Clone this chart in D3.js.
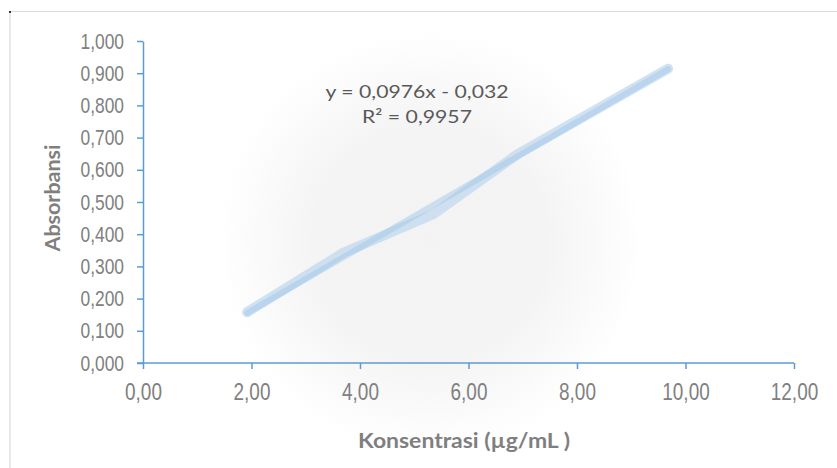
<!DOCTYPE html>
<html>
<head>
<meta charset="utf-8">
<script src="https://cdn.jsdelivr.net/npm/d3@7"></script>
<style>
  body { margin: 0; background: #fff; }
</style>
</head>
<body>
<div id="chart"></div>
<script>
// data
const konsentrasi = [1.92, 3.69, 5.35, 6.90, 9.68]
const absorbansi = [0.158, 0.342, 0.462, 0.648, 0.914]
const xTicks = [0, 2, 4, 6, 8, 10, 12]
const yTicks = [0, 0.1, 0.2, 0.3, 0.4, 0.5, 0.6, 0.7, 0.8, 0.9, 1.0]
const slope = 0.0976
const intercept = -0.032
const eqLines = ["y = 0,0976x - 0,032", "R² = 0,9957"]

const W = 837, H = 468
const plot = { left: 143, right: 794, top: 41, bottom: 363 }

const svg = d3.select("#chart").append("svg")
    .attr("width", W)
    .attr("height", H)

// indonesian number format (comma decimal)
const loc = d3.formatLocale({ decimal: ",", thousands: ".", grouping: [3], currency: ["", ""] })

// soft radial glow behind the chart
const defs = svg.append("defs")
const grad = defs.append("radialGradient").attr("id", "glow")
    .attr("gradientUnits", "userSpaceOnUse")
    .attr("cx", 430).attr("cy", 242).attr("r", 212)
grad.append("stop").attr("offset", "0%").attr("stop-color", "#f3f3f3")
grad.append("stop").attr("offset", "55%").attr("stop-color", "#f4f4f4")
grad.append("stop").attr("offset", "100%").attr("stop-color", "#ffffff")
svg.append("rect").attr("x", 10).attr("y", 12).attr("width", W).attr("height", H)
    .style("fill", "url(#glow)")

// chart border (cut off at right/bottom)
svg.append("line").attr("x1", 9).attr("y1", 11.5).attr("x2", W).attr("y2", 11.5)
    .style("stroke", "#d9d9d9").style("stroke-width", 1.2)
svg.append("line").attr("x1", 10).attr("y1", 11).attr("x2", 10).attr("y2", H)
    .style("stroke", "#d9d9d9").style("stroke-width", 1.2)
svg.append("rect").attr("x", 9).attr("y", 11).attr("width", 2).attr("height", 2).style("fill", "#333")

// scales
const x = d3.scaleLinear().domain([0, 12]).range([plot.left, plot.right])
const y = d3.scaleLinear().domain([0, 1]).range([plot.bottom, plot.top])

const axisColor = "#5b9bd5"

const xAxis = d3.axisBottom(x)
    .tickValues(xTicks)
    .tickSize(6)
    .tickSizeOuter(0)
    .tickPadding(14)
    .tickFormat(loc.format(".2f"))

const yAxis = d3.axisLeft(y)
    .tickValues(yTicks)
    .tickSize(6)
    .tickSizeOuter(0)
    .tickPadding(13)
    .tickFormat(loc.format(".3f"))

const gx = svg.append("g")
    .attr("transform", "translate(0," + plot.bottom + ")")
    .call(xAxis)
gx.select(".domain").attr("d", "M" + (plot.left - 6) + ",0H" + plot.right)

const gy = svg.append("g")
    .attr("transform", "translate(" + plot.left + ",0)")
    .call(yAxis)

svg.selectAll(".domain, .tick line")
    .style("stroke", axisColor)
    .style("stroke-width", 1.5)

gx.selectAll(".tick text")
    .style("font-family", "'Liberation Sans', Arial, sans-serif")
    .style("font-size", "24px")
    .style("fill", "#808080")
    .attr("dy", "0.71em")

gy.selectAll(".tick text")
    .style("font-family", "'Liberation Sans', Arial, sans-serif")
    .style("font-size", "22px")
    .style("fill", "#808080")

// squeeze labels horizontally like the original
svg.selectAll(".tick text").each(function () {
    const len = this.getComputedTextLength()
    d3.select(this).attr("textLength", len * 0.79).attr("lengthAdjust", "spacingAndGlyphs")
})

// data line
const pts = konsentrasi.map((k, i) => [k, absorbansi[i]])
const line = d3.line().x(d => x(d[0])).y(d => y(d[1]))

svg.append("path")
    .datum(pts)
    .attr("d", line)
    .style("fill", "none")
    .style("stroke", "#bdd7ee")
    .style("stroke-opacity", 0.7)
    .style("stroke-width", 10)
    .style("stroke-linecap", "round")
    .style("stroke-linejoin", "round")

// linear trendline
const xr = d3.extent(konsentrasi)
const trend = xr.map(v => [v, slope * v + intercept])
svg.append("path")
    .datum(trend)
    .attr("d", line)
    .style("fill", "none")
    .style("stroke", "#9dc3e6")
    .style("stroke-opacity", 0.45)
    .style("stroke-width", 6)
    .style("stroke-linecap", "round")

// equation label
svg.selectAll(".eq")
    .data(eqLines)
    .enter()
    .append("text")
    .attr("class", "eq")
    .text(d => d)
    .attr("x", 417)
    .attr("y", (d, i) => 98 + i * 25)
    .attr("text-anchor", "middle")
    .attr("textLength", (d, i) => i == 0 ? 183 : 110)
    .attr("lengthAdjust", "spacingAndGlyphs")
    .style("font-family", "Lato, 'Open Sans', sans-serif")
    .style("font-size", "18px")
    .style("fill", "#595959")

// axis titles
svg.append("text")
    .text("Konsentrasi (µg/mL )")
    .attr("x", 464)
    .attr("y", 448)
    .attr("text-anchor", "middle")
    .attr("textLength", 212)
    .attr("lengthAdjust", "spacingAndGlyphs")
    .style("font-family", "Lato, 'Open Sans', sans-serif")
    .style("font-weight", "bold")
    .style("font-size", "21px")
    .style("fill", "#7f7f7f")

svg.append("text")
    .text("Absorbansi")
    .attr("transform", "translate(60,198) rotate(-90)")
    .attr("text-anchor", "middle")
    .attr("textLength", 107)
    .attr("lengthAdjust", "spacingAndGlyphs")
    .style("font-family", "Lato, 'Open Sans', sans-serif")
    .style("font-weight", "bold")
    .style("font-size", "21px")
    .style("fill", "#7f7f7f")
</script>
</body>
</html>
